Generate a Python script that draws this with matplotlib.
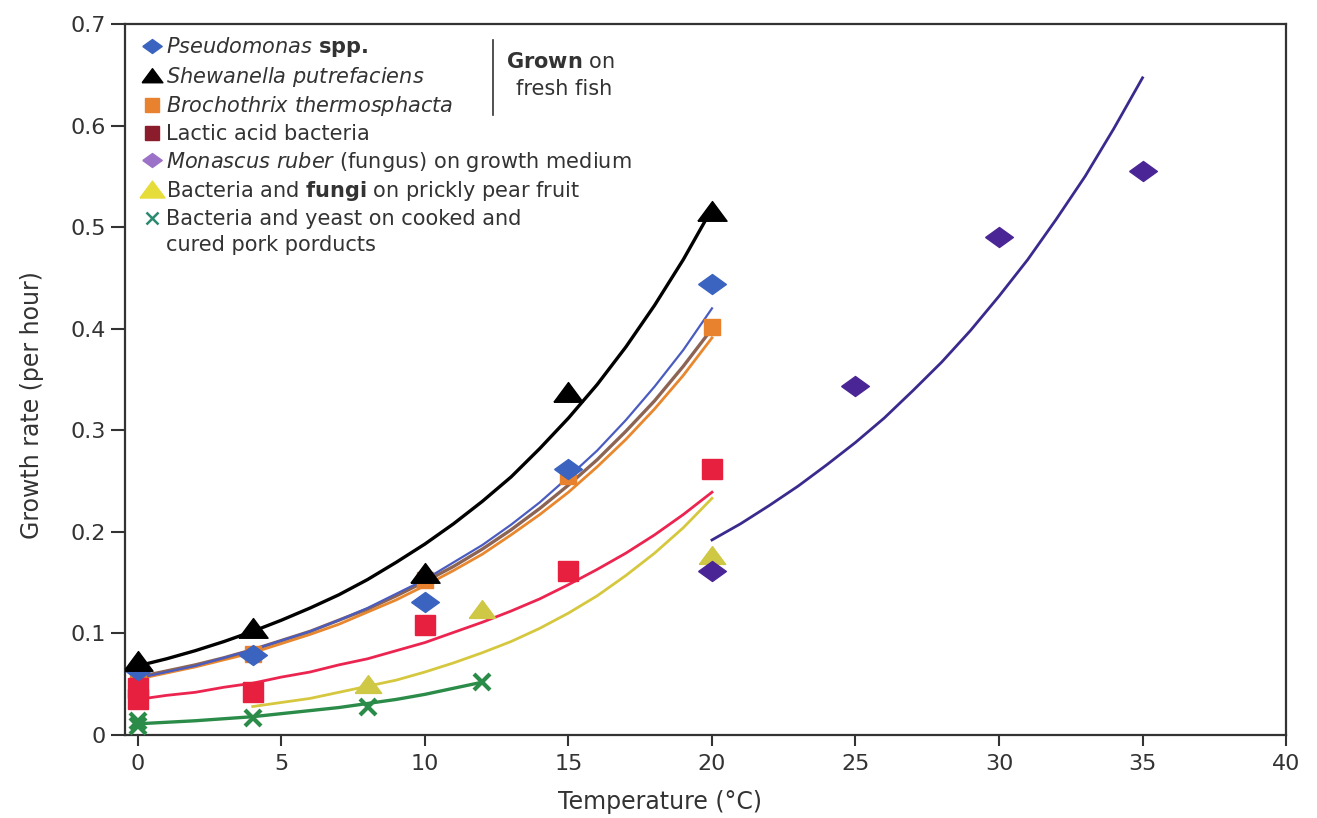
import numpy as np
import matplotlib.pyplot as plt
from matplotlib.lines import Line2D
from matplotlib.path import Path

plt.rcParams['font.family'] = ['DejaVu Sans']
plt.rcParams['mathtext.fontset'] = 'dejavusans'

# measured points (temperature in C, growth rate per hour)
t_fish = [0, 4, 10, 15, 20]
pseudomonas = [0.064, 0.079, 0.131, 0.262, 0.444]
shewanella = [0.072, 0.104, 0.158, 0.337, 0.515]
brochothrix = [0.058, 0.080, 0.153, 0.255, 0.402]

t_lactic = [0, 0, 4, 10, 15, 20]
lactic = [0.046, 0.035, 0.042, 0.108, 0.161, 0.262]

t_monascus = [20, 25, 30, 35]
monascus = [0.161, 0.344, 0.490, 0.555]

t_pear = [8, 12, 20]
pear = [0.049, 0.123, 0.176]

t_pork = [0, 0, 4, 8, 12]
pork = [0.014, 0.009, 0.017, 0.028, 0.052]

# fitted curves at each degree
t_fit = list(range(0, 21))
fit_shewanella = [0.068, 0.075, 0.083, 0.092, 0.102, 0.113, 0.125, 0.138, 0.153, 0.170, 0.188,
                  0.208, 0.230, 0.254, 0.282, 0.312, 0.345, 0.382, 0.423, 0.468, 0.518]
fit_pseudomonas = [0.056, 0.062, 0.068, 0.076, 0.084, 0.093, 0.102, 0.113, 0.125, 0.139, 0.153,
                   0.170, 0.187, 0.207, 0.229, 0.254, 0.280, 0.310, 0.343, 0.379, 0.420]
fit_brown = [0.057, 0.063, 0.069, 0.076, 0.084, 0.093, 0.102, 0.113, 0.124, 0.137, 0.151,
             0.166, 0.183, 0.202, 0.223, 0.246, 0.271, 0.299, 0.329, 0.363, 0.400]
fit_brochothrix = [0.055, 0.061, 0.067, 0.074, 0.081, 0.090, 0.099, 0.109, 0.121, 0.133, 0.147,
                   0.162, 0.178, 0.197, 0.217, 0.239, 0.264, 0.291, 0.321, 0.354, 0.391]
fit_lactic = [0.035, 0.039, 0.042, 0.047, 0.051, 0.057, 0.062, 0.069, 0.075, 0.083, 0.091,
              0.101, 0.111, 0.122, 0.134, 0.148, 0.163, 0.179, 0.197, 0.217, 0.239]

t_fit_pear = list(range(4, 21))
fit_pear = [0.028, 0.032, 0.036, 0.042, 0.048, 0.054, 0.062, 0.071, 0.081, 0.092, 0.105,
            0.120, 0.137, 0.157, 0.179, 0.204, 0.233]

t_fit_pork = list(range(0, 13))
fit_pork = [0.011, 0.0125, 0.014, 0.016, 0.018, 0.021, 0.024, 0.027, 0.031, 0.035, 0.040,
            0.046, 0.052]

t_fit_monascus = list(range(20, 36))
fit_monascus = [0.192, 0.208, 0.226, 0.245, 0.266, 0.288, 0.312, 0.339, 0.367, 0.398, 0.432,
                0.468, 0.508, 0.550, 0.597, 0.647]

x_ticks = [0, 5, 10, 15, 20, 25, 30, 35, 40]
y_ticks = [0, 0.1, 0.2, 0.3, 0.4, 0.5, 0.6, 0.7]
y_ticklabels = ['0', '0.1', '0.2', '0.3', '0.4', '0.5', '0.6', '0.7']

# wide diamond / triangle, the original is stretched horizontally
diamond = Path([(-1, 0), (0, 0.72), (1, 0), (0, -0.72), (-1, 0)])
triangle = Path([(-1, -0.6), (0, 0.75), (1, -0.6), (-1, -0.6)])

fig = plt.figure(figsize=(13.17, 8.18), dpi=100)
ax = fig.add_axes([0.0949, 0.1015, 0.8816, 0.8692])

# curves
ax.plot(t_fit, fit_brochothrix, color='#e8872e', lw=2.0, zorder=2)
ax.plot(t_fit, fit_brown, color='#8c6454', lw=2.4, zorder=2)
ax.plot(t_fit, fit_pseudomonas, color='#4a5cc0', lw=1.6, zorder=2)
ax.plot(t_fit, fit_shewanella, color='black', lw=2.4, zorder=2)
ax.plot(t_fit, fit_lactic, color='#ec2550', lw=2.0, zorder=2)
ax.plot(t_fit_pear, fit_pear, color='#d6c83e', lw=2.0, zorder=2)
ax.plot(t_fit_pork, fit_pork, color='#2a8c48', lw=2.4, zorder=2)
ax.plot(t_fit_monascus, fit_monascus, color='#3b2a8e', lw=2.0, zorder=2)

# points
ax.plot(t_fish, brochothrix, ls='none', marker='s', ms=11, color='#e8822e', zorder=3)
ax.plot(t_lactic, lactic, ls='none', marker='s', ms=15, color='#e8203f', zorder=3)
ax.plot(t_pear, pear, ls='none', marker=triangle, ms=19, color='#cfc845', zorder=3)
ax.plot(t_fish, pseudomonas, ls='none', marker=diamond, ms=20, color='#3a64c0', zorder=4)
ax.plot(t_fish, shewanella, ls='none', marker=triangle, ms=21, color='black', zorder=4)
ax.plot(t_monascus, monascus, ls='none', marker=diamond, ms=20, color='#4a2596', zorder=4)
ax.plot(t_pork, pork, ls='none', marker='x', ms=11, mew=3, color='#2a8c48', zorder=4)

ax.set_xlim(-0.45, 40)
ax.set_ylim(0, 0.7)
ax.set_xticks(x_ticks)
ax.set_yticks(y_ticks)
ax.set_yticklabels(y_ticklabels)
ax.tick_params(direction='out', width=1.5, labelsize=16, colors='#333333', pad=4)
ax.tick_params(axis='x', length=8, pad=6)
ax.tick_params(axis='y', length=10)
for s in ax.spines.values():
    s.set_linewidth(1.6)
    s.set_color('#333333')

ax.set_xlabel('Temperature (°C)', fontsize=17, color='#333333')
ax.set_ylabel('Growth rate (per hour)', fontsize=17, color='#333333')
ax.xaxis.set_label_coords(0.461, -0.078)
ax.yaxis.set_label_coords(-0.070, 0.464)

# legend
handles = [
    Line2D([], [], ls='none', marker=diamond, ms=14, color='#3a64c0'),
    Line2D([], [], ls='none', marker=triangle, ms=15, color='black'),
    Line2D([], [], ls='none', marker='s', ms=10, color='#e8822e'),
    Line2D([], [], ls='none', marker='s', ms=10, color='#8a1c2c'),
    Line2D([], [], ls='none', marker=diamond, ms=14, color='#9b72c8'),
    Line2D([], [], ls='none', marker=triangle, ms=18, color='#e6dc3a'),
    Line2D([], [], ls='none', marker='x', ms=9, mew=1.8, color='#2a8a70'),
    Line2D([], [], ls='none'),
]
labels = [
    r'$\mathit{Pseudomonas}$ $\mathbf{spp.}$',
    r'$\mathit{Shewanella\ putrefaciens}$',
    r'$\mathit{Brochothrix\ thermosphacta}$',
    'Lactic acid bacteria',
    r'$\mathit{Monascus\ ruber}$ (fungus) on growth medium',
    r'Bacteria and $\mathbf{fungi}$ on prickly pear fruit',
    'Bacteria and yeast on cooked and',
    'cured pork porducts',
]
leg = ax.legend(handles, labels, loc='upper left', bbox_to_anchor=(0.013, 0.990),
                frameon=False, fontsize=15, handlelength=0.75, handletextpad=0.28,
                labelspacing=0.27, borderpad=0.2, borderaxespad=0)
for txt in leg.get_texts():
    txt.set_color('#333333')

ax.add_line(Line2D([0.317, 0.317], [0.872, 0.9775], transform=ax.transAxes,
                   color='#333333', lw=1.2))
ax.text(0.375, 0.946, r'$\mathbf{Grown}$ on', transform=ax.transAxes,
        ha='center', va='center', fontsize=15, color='#333333')
ax.text(0.378, 0.909, 'fresh fish', transform=ax.transAxes,
        ha='center', va='center', fontsize=15, color='#333333')

fig.savefig('out.png', dpi=100)
